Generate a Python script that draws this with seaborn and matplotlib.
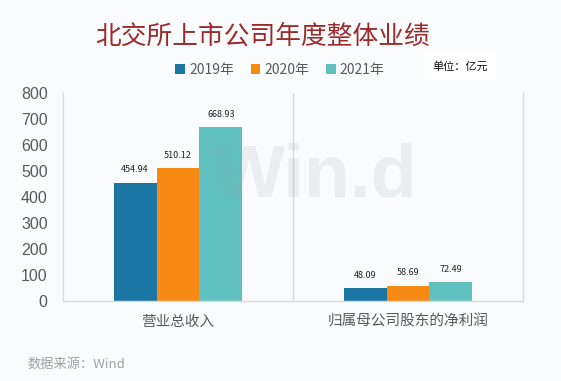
import pandas as pd
import matplotlib.pyplot as plt
import seaborn as sns

# data
categories = ["营业总收入", "归属母公司股东的净利润"]
years = ["2019年", "2020年", "2021年"]
v2019 = [454.94, 48.09]
v2020 = [510.12, 58.69]
v2021 = [668.93, 72.49]

rows = []
for yr, vals in zip(years, [v2019, v2020, v2021]):
    for c, v in zip(categories, vals):
        rows.append({"cat": c, "year": yr, "value": v})
df = pd.DataFrame(rows)

sns.set_style("white")
plt.rcParams["font.family"] = ["Noto Sans CJK SC", "DejaVu Sans"]

bg = "#F9FBFD"
fig = plt.figure(figsize=(5.61, 3.81), dpi=100, facecolor=bg)
ax = fig.add_axes([63 / 561, 1 - 301 / 381, 460 / 561, 208 / 381], facecolor=bg)

palette = ["#1C76A3", "#F68A14", "#60BFBF"]
sns.barplot(data=df, x="cat", y="value", hue="year", palette=palette,
            width=0.56, linewidth=0, saturation=1, ax=ax, legend=True)

for cont in ax.containers:
    ax.bar_label(cont, fmt="%.2f", padding=6, fontsize=6.5, color="#222222")

ax.set_ylim(0, 800)
ax.set_xlim(-0.5, 1.5)
ax.set_yticks(range(0, 801, 100))
ax.tick_params(axis="y", length=0, pad=11, labelsize=11.5, labelcolor="#595959")
ax.tick_params(axis="x", length=0, pad=10, labelsize=10.5, labelcolor="#595959")
for lab in ax.get_yticklabels():
    lab.set_family(["Liberation Sans", "DejaVu Sans"])
ax.set_xlabel("")
ax.set_ylabel("")
for s in ["left", "bottom", "right"]:
    ax.spines[s].set_color("#D9D9D9")
    ax.spines[s].set_linewidth(1)
ax.spines["top"].set_visible(False)
ax.axvline(0.5, color="#D9D9D9", linewidth=1)

# watermark
fig.text(316 / 561, 1 - 177 / 381, "Win.d", ha="center", va="center",
         fontsize=54, fontweight="bold", color="#9AA5A5", alpha=0.15,
         family="Liberation Sans", zorder=5)

leg = ax.legend(loc="center", bbox_to_anchor=(280 / 561, 1 - 70 / 381),
                bbox_transform=fig.transFigure, ncol=3, frameon=False,
                fontsize=10, handlelength=0.7, handleheight=0.7,
                handletextpad=0.3, columnspacing=1.2)
for t in leg.get_texts():
    t.set_color("#595959")

fig.text(263 / 561, 1 - 37 / 381, "北交所上市公司年度整体业绩", ha="center",
         va="center", fontsize=18.5, color="#9B2B2B")
fig.text(432 / 561, 1 - 66 / 381, "单位：亿元", ha="left", va="center",
         fontsize=8, color="#111111",
         bbox=dict(facecolor="white", edgecolor="none", pad=6))
fig.text(27 / 561, 1 - 364 / 381, "数据来源：Wind", ha="left", va="center",
         fontsize=9.5, color="#A0A0A0")

plt.savefig("out.png", dpi=100, facecolor=bg)
